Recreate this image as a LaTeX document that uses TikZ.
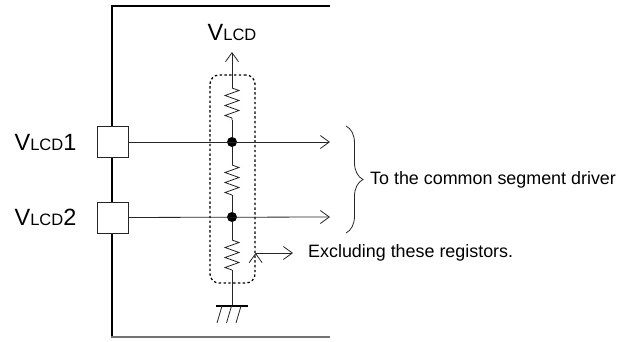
\documentclass[tikz,border=0pt]{standalone}
\usepackage{fontspec}
\setmainfont{Liberation Sans}
\usetikzlibrary{arrows.meta,decorations.pathmorphing,decorations.pathreplacing,positioning}

\tikzset{
  wire/.style={line width=0.8pt, draw=black!85},
  pad/.style={draw=black!85, fill=white, minimum size=31pt, inner sep=0pt, line width=0.8pt},
  junction/.style={circle, fill=black, inner sep=0pt, minimum size=10pt},
  resistor/.style={decorate, decoration={zigzag, segment length=10pt, amplitude=7pt}},
  regbox/.style={draw=black, line width=1.3pt, dash pattern=on 2.4pt off 2.4pt, rounded corners=9pt, minimum width=45pt, minimum height=208pt},
  note/.style={font=\fontsize{17.9}{20}\selectfont, inner sep=0pt},
  pinname/.style={inner sep=0pt},
}
\newcommand{\vlcdname}[1]{{\fontsize{23.5}{26}\selectfont V}{\fontsize{16.5}{20}\selectfont LCD}{\fontsize{23.5}{26}\selectfont #1}}

\begin{document}
\begin{tikzpicture}[x=1pt, y=-1pt, >={Straight Barb[length=9pt, width=13pt]}]
    \useasboundingbox (0,0) rectangle (619,341);
    \def\cx{232}
    % Frame
    \draw[line width=1.1pt] (330,6) -- (112,6) -- (112,337);
    \draw[line width=2pt, black!55] (111,337) -- (330,337);
    % Nodes
    \node[pad] (P1) at (112.5,142) {};
    \node[pad] (P2) at (112.5,217.5) {};
    \node[pinname, left=20pt of P1] (L1) {\vlcdname{1}};
    \node[pinname, left=20pt of P2] (L2) {\vlcdname{2}};
    \node[pinname] (VL) at (\cx,32) {\vlcdname{}};
    \node[regbox] (B) at (232.5,179) {};
    \node[junction] (J1) at (\cx,142) {};
    \node[junction] (J2) at (\cx,217) {};
    \coordinate (VT) at (\cx,52);
    \coordinate (R1a) at (\cx,88);
    \coordinate (R1b) at (\cx,120);
    \coordinate (R2a) at (\cx,165);
    \coordinate (R2b) at (\cx,195);
    \coordinate (R3a) at (\cx,240);
    \coordinate (R3b) at (\cx,270);
    \coordinate (G) at (\cx,306);
    \coordinate (E1) at (330,142);
    \coordinate (E2) at (330,217);
    \coordinate (X) at (293,253);
    \node[note, anchor=west] (T1) at (370,180) {To the common segment driver};
    \node[note, anchor=west] (T2) at (308,253) {Excluding these registors.};
    % Resistor chain
    \draw[wire, ->] (R1a) -- (VT);
    \draw[wire, resistor] (R1a) -- (R1b);
    \draw[wire] (R1b) -- (J1) -- (R2a);
    \draw[wire, resistor] (R2a) -- (R2b);
    \draw[wire] (R2b) -- (J2) -- (R3a);
    \draw[wire, resistor] (R3a) -- (R3b);
    \draw[wire] (R3b) -- (G);
    % Ground
    \draw[line width=1.6pt] (216,306) -- (248,306);
    \foreach \i in {0,1,2}
        \draw[wire] (222+9.5*\i,306) -- (217+9.5*\i,323);
    % Arrows
    \path[wire, ->] (P1) edge (E1);
    \path[wire, ->] (P2) edge (E2);
    \path[wire, ->] (B.east |- X) edge (X);
    \draw[wire, decorate, decoration={brace, amplitude=17pt}] (346,126) -- (346,233);
\end{tikzpicture}
\end{document}
